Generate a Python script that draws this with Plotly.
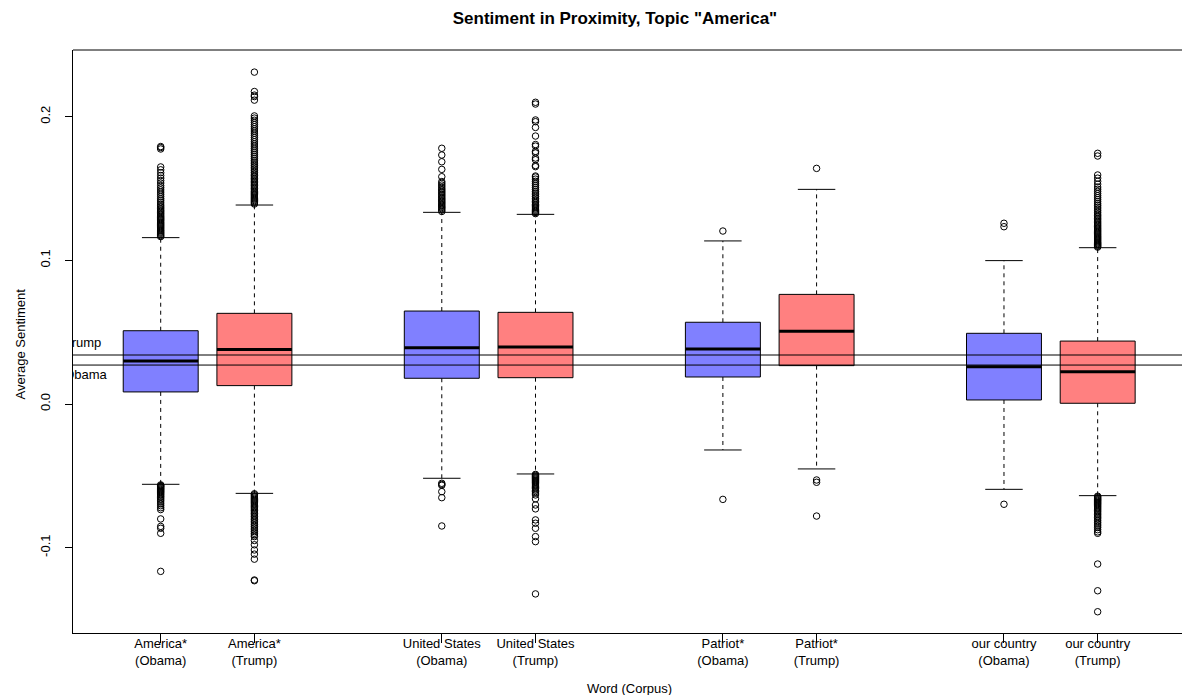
import plotly.graph_objects as go

# ---- data -----------------------------------------------------------------
words = ["America*", "America*", "United States", "United States",
         "Patriot*", "Patriot*", "our country", "our country"]
corpora = ["Obama", "Trump", "Obama", "Trump", "Obama", "Trump", "Obama", "Trump"]
positions = [1, 2, 4, 5, 7, 8, 10, 11]

q1 = [0.0084, 0.0128, 0.0179, 0.0183, 0.0188, 0.0267, 0.0028, 0.0005]
medians = [0.0299, 0.0380, 0.0392, 0.0397, 0.0383, 0.0506, 0.0260, 0.0225]
q3 = [0.0510, 0.0631, 0.0647, 0.0638, 0.0569, 0.0763, 0.0492, 0.0438]
whisker_low = [-0.0559, -0.0622, -0.0517, -0.0487, -0.0320, -0.0452, -0.0594, -0.0638]
whisker_high = [0.1158, 0.1385, 0.1334, 0.1320, 0.1135, 0.1494, 0.0998, 0.1088]

# corpus-wide average sentiment
trump_avg = 0.0341
obama_avg = 0.0271

out_america_obama = [
    0.1165, 0.1172, 0.1180, 0.1188, 0.1195, 0.1203, 0.1210, 0.1218, 0.1226, 0.1234,
    0.1242, 0.1250, 0.1258, 0.1266, 0.1275, 0.1283, 0.1290, 0.1298, 0.1306, 0.1315,
    0.1324, 0.1333, 0.1342, 0.1350, 0.1360, 0.1370, 0.1380, 0.1392, 0.1405, 0.1418,
    0.1430, 0.1445, 0.1460, 0.1475, 0.1490, 0.1505, 0.1520, 0.1538, 0.1555, 0.1572,
    0.1590, 0.1610, 0.1630, 0.1650, 0.1775, 0.1785, 0.1792,
    -0.0563, -0.0568, -0.0573, -0.0578, -0.0584, -0.0590, -0.0596, -0.0603, -0.0610,
    -0.0617, -0.0625, -0.0633, -0.0642, -0.0650, -0.0660, -0.0670, -0.0682, -0.0695,
    -0.0708, -0.0722, -0.0735, -0.0800, -0.0852, -0.0865, -0.0900, -0.1165,
]
out_america_trump = [
    0.1392, 0.1400, 0.1408, 0.1416, 0.1424, 0.1432, 0.1440, 0.1448, 0.1456, 0.1464,
    0.1472, 0.1480, 0.1490, 0.1500, 0.1510, 0.1520, 0.1530, 0.1540, 0.1550, 0.1560,
    0.1570, 0.1580, 0.1590, 0.1600, 0.1612, 0.1624, 0.1636, 0.1648, 0.1660, 0.1672,
    0.1684, 0.1696, 0.1710, 0.1724, 0.1738, 0.1752, 0.1766, 0.1780, 0.1795, 0.1810,
    0.1825, 0.1840, 0.1855, 0.1870, 0.1885, 0.1900, 0.1915, 0.1930, 0.1945, 0.1960,
    0.1975, 0.1990, 0.2005, 0.2115, 0.2140, 0.2150, 0.2175, 0.2310,
    -0.0625, -0.0632, -0.0640, -0.0648, -0.0656, -0.0664, -0.0672, -0.0680, -0.0688,
    -0.0696, -0.0705, -0.0714, -0.0723, -0.0732, -0.0742, -0.0752, -0.0762, -0.0772,
    -0.0783, -0.0794, -0.0805, -0.0816, -0.0828, -0.0840, -0.0852, -0.0864, -0.0876,
    -0.0888, -0.0900, -0.0912, -0.0923, -0.0950, -0.0980, -0.1016, -0.1045, -0.1080,
    -0.1225, -0.1230,
]
out_states_obama = [
    0.1340, 0.1350, 0.1360, 0.1368, 0.1376, 0.1385, 0.1394, 0.1403, 0.1412, 0.1421,
    0.1430, 0.1440, 0.1450, 0.1460, 0.1470, 0.1480, 0.1490, 0.1500, 0.1512, 0.1524,
    0.1536, 0.1548, 0.1582, 0.1633, 0.1686, 0.1733, 0.1780,
    -0.0552, -0.0560, -0.0566, -0.0610, -0.0652, -0.0849,
]
out_states_trump = [
    0.1325, 0.1332, 0.1340, 0.1348, 0.1356, 0.1364, 0.1372, 0.1380, 0.1390, 0.1400,
    0.1410, 0.1420, 0.1432, 0.1444, 0.1456, 0.1468, 0.1480, 0.1494, 0.1508, 0.1522,
    0.1536, 0.1550, 0.1565, 0.1580, 0.1587, 0.1652, 0.1660, 0.1700, 0.1712, 0.1747,
    0.1758, 0.1795, 0.1806, 0.1865, 0.1925, 0.1965, 0.1977, 0.2088, 0.2100,
    -0.0490, -0.0496, -0.0502, -0.0508, -0.0514, -0.0520, -0.0527, -0.0534, -0.0541,
    -0.0548, -0.0556, -0.0564, -0.0572, -0.0580, -0.0590, -0.0600, -0.0610, -0.0620,
    -0.0633, -0.0660, -0.0703, -0.0730, -0.0807, -0.0830, -0.0865, -0.0923, -0.0958,
    -0.1322,
]
out_patriot_obama = [0.1204, -0.0664]
out_patriot_trump = [0.1640, -0.0529, -0.0545, -0.0780]
out_country_obama = [0.1258, 0.1234, -0.0698]
out_country_trump = [
    0.1092, 0.1098, 0.1104, 0.1110, 0.1116, 0.1122, 0.1128, 0.1135, 0.1142, 0.1149,
    0.1156, 0.1163, 0.1170, 0.1178, 0.1186, 0.1194, 0.1202, 0.1210, 0.1218, 0.1226,
    0.1235, 0.1244, 0.1253, 0.1262, 0.1272, 0.1282, 0.1292, 0.1302, 0.1312, 0.1322,
    0.1334, 0.1346, 0.1358, 0.1370, 0.1382, 0.1394, 0.1408, 0.1422, 0.1436, 0.1450,
    0.1465, 0.1480, 0.1495, 0.1510, 0.1530, 0.1550, 0.1572, 0.1594, 0.1726, 0.1745,
    -0.0642, -0.0648, -0.0654, -0.0660, -0.0666, -0.0672, -0.0679, -0.0686, -0.0693,
    -0.0700, -0.0708, -0.0716, -0.0724, -0.0732, -0.0741, -0.0750, -0.0760, -0.0770,
    -0.0780, -0.0790, -0.0800, -0.0812, -0.0824, -0.0836, -0.0848, -0.0860, -0.0875,
    -0.0890, -0.0900, -0.1114, -0.1300, -0.1446,
]
outliers = [out_america_obama, out_america_trump, out_states_obama, out_states_trump,
            out_patriot_obama, out_patriot_trump, out_country_obama, out_country_trump]

# ---- styling ----------------------------------------------------------------
FONT = "Liberation Sans, Arial, Helvetica, sans-serif"
FILL = {"Obama": "#8080FF", "Trump": "#FF8080"}
HALF_BOX = 0.4
HALF_CAP = 0.2

Y_RANGE = [-0.1594, 0.2464]
PLOT_H = 695 - 50 - 62
PER_PX = (Y_RANGE[1] - Y_RANGE[0]) / PLOT_H  # data units per pixel

fig = go.Figure()

for i, pos in enumerate(positions):
    left, right = pos - HALF_BOX, pos + HALF_BOX
    # dashed whiskers
    for a, b in ((q3[i], whisker_high[i]), (q1[i], whisker_low[i])):
        fig.add_trace(go.Scatter(
            x=[pos, pos], y=[a, b], mode="lines",
            line=dict(color="#000000", width=1, dash="4px,4px"),
            hoverinfo="skip", showlegend=False))
    # whisker caps
    for w in (whisker_high[i], whisker_low[i]):
        fig.add_trace(go.Scatter(
            x=[pos - HALF_CAP, pos + HALF_CAP], y=[w, w], mode="lines",
            line=dict(color="#000000", width=1),
            hoverinfo="skip", showlegend=False))
    # box
    fig.add_trace(go.Scatter(
        x=[left, right, right, left, left],
        y=[q1[i], q1[i], q3[i], q3[i], q1[i]],
        mode="lines", fill="toself", fillcolor=FILL[corpora[i]],
        line=dict(color="#000000", width=1),
        hoverinfo="skip", showlegend=False))
    # median
    fig.add_trace(go.Scatter(
        x=[left, right], y=[medians[i], medians[i]], mode="lines",
        line=dict(color="#000000", width=3),
        hoverinfo="skip", showlegend=False))
    # outliers
    fig.add_trace(go.Scatter(
        x=[pos] * len(outliers[i]), y=outliers[i], mode="markers",
        marker=dict(symbol="circle-open", size=6.5, color="#000000",
                    line=dict(width=1, color="#000000")),
        hoverinfo="skip", showlegend=False))

# corpus averages
for val in (trump_avg, obama_avg):
    fig.add_shape(type="line", xref="paper", x0=0, x1=1, yref="y", y0=val, y1=val,
                  line=dict(color="#000000", width=1))

# line labels, clipped at the left edge of the plotting frame
fig.add_trace(go.Scatter(
    x=[-0.03], y=[trump_avg + 11 * PER_PX], mode="text", text=["Trump"],
    textposition="middle right", cliponaxis=True,
    textfont=dict(family=FONT, size=13, color="#000000"),
    hoverinfo="skip", showlegend=False))
fig.add_trace(go.Scatter(
    x=[-0.03], y=[obama_avg - 11 * PER_PX], mode="text", text=["Obama"],
    textposition="middle right", cliponaxis=True,
    textfont=dict(family=FONT, size=13, color="#000000"),
    hoverinfo="skip", showlegend=False))

tick_text = [f"{w}<br>({c})" for w, c in zip(words, corpora)]

fig.update_layout(
    width=1182, height=695,
    margin=dict(l=73, r=0, t=50, b=62),
    paper_bgcolor="#FFFFFF", plot_bgcolor="#FFFFFF",
    font=dict(family=FONT, size=13, color="#000000"),
    title=dict(text='<b>Sentiment in Proximity, Topic "America"</b>',
               font=dict(family=FONT, size=17, color="#000000"),
               xref="container", x=0.5203, xanchor="center",
               yref="container", y=1 - 18 / 695, yanchor="middle"),
    xaxis=dict(range=[0.064, 11.9], showgrid=False, zeroline=False,
               showline=True, linecolor="#000000", linewidth=1,
               tickmode="array", tickvals=positions, ticktext=tick_text,
               ticks="outside", ticklen=9, tickcolor="#000000", tickwidth=1,
               ticklabelstandoff=-11,
               tickfont=dict(family=FONT, size=13, color="#000000")),
    yaxis=dict(range=Y_RANGE, showgrid=False, zeroline=False,
               showline=True, linecolor="#000000", linewidth=1,
               tickmode="array", tickvals=[-0.1, 0.0, 0.1, 0.2],
               ticktext=["-0.1", "0.0", "0.1", "0.2"], tickangle=-90,
               ticks="outside", ticklen=7, tickcolor="#000000", tickwidth=1,
               ticklabelstandoff=10,
               tickfont=dict(family=FONT, size=13, color="#000000")),
    annotations=[
        dict(text="Average Sentiment", xref="paper", yref="paper", x=0, y=0.5,
             xshift=-53, yshift=-3, xanchor="center", yanchor="middle", textangle=-90,
             showarrow=False, font=dict(family=FONT, size=13, color="#000000")),
        dict(text="Word (Corpus)", xref="paper", yref="paper", x=0.5014, y=0,
             yshift=-55, xanchor="center", yanchor="middle",
             showarrow=False, font=dict(family=FONT, size=13, color="#000000")),
    ],
)

# top edge of the plotting frame
fig.add_shape(type="line", xref="paper", yref="paper", x0=0, x1=1, y0=1, y1=1,
              line=dict(color="#000000", width=1))

fig.write_html("out.html")
